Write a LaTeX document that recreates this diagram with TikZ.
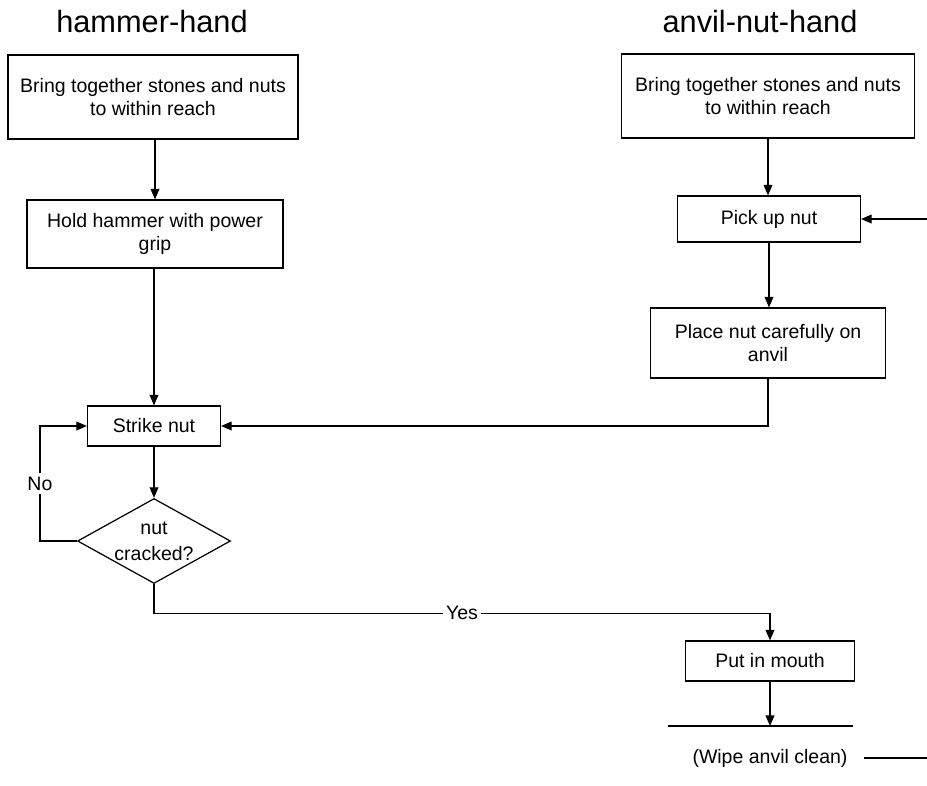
\documentclass[tikz,border=0pt]{standalone}
\usepackage{fontspec}
\setmainfont{Liberation Sans}
\usetikzlibrary{arrows.meta,shapes.geometric}
\begin{document}
\begin{tikzpicture}[x=0.02cm,y=-0.02cm,
  lane/.style={font=\fontsize{17.5pt}{20pt}\selectfont},
  stepbox/.style={draw,line width=0.7pt,align=center,inner sep=0pt,
    font=\fontsize{11.1pt}{13pt}\selectfont},
  decision/.style={diamond,draw,line width=0.7pt,align=center,inner sep=0pt,
    aspect=1.8,font=\fontsize{11.1pt}{15pt}\selectfont},
  flow/.style={line width=0.7pt,-{Triangle[length=6pt,width=5pt]}},
  link/.style={line width=0.7pt},
  tag/.style={fill=white,inner sep=2pt,font=\fontsize{11.1pt}{13pt}\selectfont}]
\useasboundingbox (0,0) rectangle (927,785);

% lane headings
\node[lane] (hamtitle) at (152,22) {hammer-hand};
\node[lane] (anviltitle) at (760,22) {anvil-nut-hand};

% hammer-hand column
\node[stepbox,minimum width=5.8cm,minimum height=1.68cm] (gatherL) at (153,97)
  {Bring together stones and nuts\\to within reach};
\node[stepbox,minimum width=5.12cm,minimum height=1.36cm] (hold) at (155,234)
  {Hold hammer with power\\grip};
\node[stepbox,minimum width=2.66cm,minimum height=0.8cm] (strike) at (154,426)
  {Strike nut};
\node[decision,minimum width=3.06cm,minimum height=1.7cm] (crack) at (154,541)
  {nut\\cracked?};

% anvil-nut-hand column
\node[stepbox,minimum width=5.86cm,minimum height=1.68cm] (gatherR) at (768,96)
  {Bring together stones and nuts\\to within reach};
\node[stepbox,minimum width=3.66cm,minimum height=0.92cm] (pick) at (769,219)
  {Pick up nut};
\node[stepbox,minimum width=4.7cm,minimum height=1.4cm] (place) at (768,343)
  {Place nut carefully on\\anvil};
\node[stepbox,minimum width=3.38cm,minimum height=0.8cm] (mouth) at (770,661)
  {Put in mouth};
\node[font=\fontsize{11.1pt}{13pt}\selectfont,inner sep=9pt] (wipe) at (770,758)
  {(Wipe anvil clean)};
\coordinate (wipeL) at (668,726);
\coordinate (wipeR) at (853,726);
\draw[link] (wipeL) -- (wipeR);

% connectors
\draw[flow] (hold.north |- gatherL.south) -- (hold.north);
\draw[flow] (hold.south -| strike.north) -- (strike.north);
\draw[flow] (strike.south) -- (crack.north);
\draw[flow] (crack.west) -- ++(-37,0) |- node[tag,pos=0.25] {No} (strike.west);
\draw[flow] (crack.south) -- ++(0,29) -| node[tag,pos=0.25] {Yes} (mouth.north);

\draw[flow] (gatherR.south) -- (gatherR.south |- pick.north);
\draw[flow] (pick.south) -- (pick.south |- place.north);
\draw[flow] (place.south) |- (strike.east);
\draw[flow] (mouth.south) -- (mouth.south |- wipeL);
\draw[flow] (wipe.east) -- ++(90,0) |- (pick.east);
\end{tikzpicture}
\end{document}
